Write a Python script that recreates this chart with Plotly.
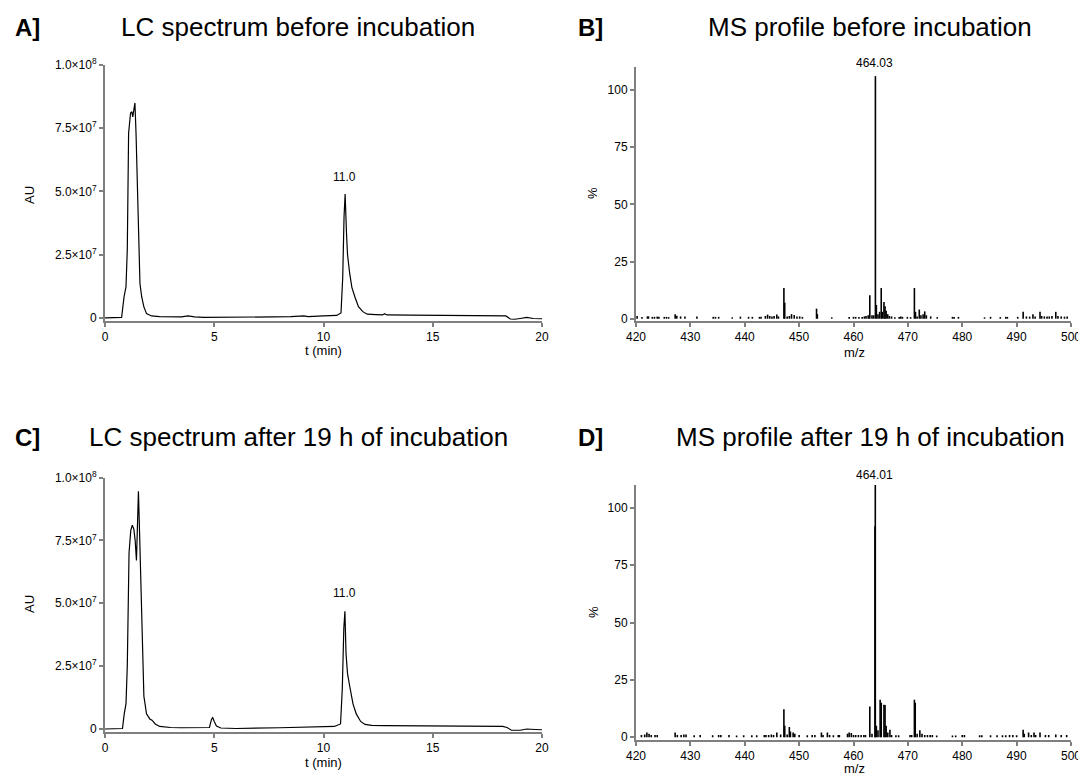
import plotly.graph_objects as go

# ---------------- DATA ----------------
# LC chromatogram before incubation (t in min, AU in units of 1e7)
lc_before_t = [0, 0.5, 0.76, 0.87, 0.96, 1.02, 1.08, 1.17, 1.23, 1.27, 1.30, 1.34, 1.37,
               1.42, 1.52, 1.60, 1.68, 1.78, 1.90, 2.13, 2.5, 3.0, 3.5, 3.8, 4.1, 4.5,
               5.5, 7.0, 8.5, 9.1, 9.3, 10.0, 10.6, 10.8, 10.88, 10.94, 10.99, 11.05,
               11.1, 11.2, 11.3, 11.45, 11.6, 11.8, 12.0, 12.4, 12.7, 12.8, 12.9, 14.0,
               16.0, 18.0, 18.35, 18.55, 18.75, 19.0, 19.3, 19.6, 20.0]
lc_before_au = [0.0, 0.0, 0.02, 0.83, 1.23, 2.7, 7.3, 8.1, 8.15, 7.95, 8.1, 8.3, 8.5,
                7.3, 4.0, 1.36, 0.83, 0.44, 0.17, 0.08, 0.05, 0.04, 0.04, 0.08, 0.04, 0.02,
                0.02, 0.03, 0.05, 0.08, 0.05, 0.08, 0.1, 0.2, 1.6, 4.0, 4.9, 3.4,
                2.5, 1.75, 1.2, 0.8, 0.45, 0.25, 0.15, 0.13, 0.12, 0.17, 0.12, 0.11,
                0.1, 0.1, 0.08, -0.04, -0.05, -0.02, 0.02, -0.02, -0.03]

# LC chromatogram after 19 h incubation
lc_after_t = [0, 0.5, 0.8, 0.88, 0.96, 1.02, 1.1, 1.18, 1.25, 1.32, 1.38, 1.44, 1.49,
              1.53, 1.57, 1.62, 1.68, 1.78, 1.9, 2.05, 2.15, 2.3, 2.5, 3.0, 3.5, 4.5,
              4.78, 4.88, 4.93, 5.0, 5.1, 5.3, 6.0, 8.0, 9.5, 10.5, 10.78, 10.86, 10.93,
              10.98, 11.03, 11.1, 11.2, 11.35, 11.5, 11.7, 11.9, 12.2, 12.8, 14.0, 16.0,
              18.2, 18.4, 18.6, 19.0, 19.3, 19.7, 20.0]
lc_after_au = [0.0, 0.0, 0.02, 0.6, 1.0, 2.5, 7.0, 7.9, 8.1, 7.95, 7.5, 6.7, 8.0,
               9.45, 8.2, 6.5, 3.6, 1.3, 0.6, 0.4, 0.35, 0.2, 0.1, 0.06, 0.05, 0.04,
               0.06, 0.4, 0.45, 0.3, 0.12, 0.04, 0.02, 0.05, 0.07, 0.1, 0.2, 1.6, 4.0,
               4.68, 3.0, 2.2, 1.7, 1.0, 0.6, 0.3, 0.18, 0.14, 0.13, 0.12, 0.1,
               0.1, 0.06, -0.05, -0.05, 0.0, -0.02, -0.03]

# MS profile before incubation (m/z, relative intensity %)
ms_before_mz = [420.2, 421.1, 422.1, 422.3, 423.0, 423.4, 423.9, 424.2, 425.2, 425.6, 426.0,
                427.2, 427.5, 428.2, 429.0, 431.2, 434.2, 434.6, 435.2, 437.7, 439.2, 440.7,
                441.4, 442.7, 443.0, 443.8, 444.2, 444.6, 445.0, 445.4, 445.9, 446.2, 447.2,
                447.35, 447.8, 448.2, 448.6, 449.1, 449.6, 450.1, 450.6, 453.2, 453.35, 456.0,
                459.2, 460.0, 460.4, 461.0, 461.6, 462.0, 462.3, 462.7, 463.0, 463.4, 463.7,
                464.03, 464.2, 464.5, 464.8, 465.1, 465.3, 465.6, 465.8, 466.0, 466.3, 466.6,
                467.0, 467.6, 468.4, 468.7, 469.0, 469.9, 470.5, 471.2, 471.4, 471.7, 472.1,
                472.4, 472.8, 473.1, 473.4, 474.2, 475.4, 478.2, 478.5, 479.3, 484.1, 485.2,
                487.0, 488.0, 488.3, 490.2, 491.2, 491.8, 492.4, 493.0, 493.4, 494.3, 494.6,
                495.1, 495.6, 496.0, 496.5, 497.2, 497.6, 498.2, 498.8, 499.3]
ms_before_int = [1.2, 0.8, 1.0, 1.0, 0.8, 0.8, 0.9, 0.9, 0.8, 0.8, 0.7,
                 2.0, 1.3, 1.0, 1.0, 1.0, 0.8, 0.8, 0.8, 0.6, 0.9, 0.8,
                 0.8, 0.8, 0.9, 1.2, 1.8, 1.2, 1.0, 1.2, 1.8, 1.0, 13.4,
                 7.0, 1.0, 1.2, 2.0, 1.6, 1.0, 1.0, 0.8, 4.4, 2.0, 0.6,
                 0.8, 0.8, 0.8, 0.8, 0.8, 1.0, 1.2, 1.5, 10.3, 1.5, 1.5,
                 106.0, 6.0, 2.0, 3.0, 13.4, 3.0, 7.3, 5.5, 3.5, 2.0, 1.2,
                 1.0, 0.6, 0.8, 1.0, 0.8, 0.8, 0.7, 13.4, 3.0, 1.0, 4.0,
                 1.5, 2.0, 3.2, 1.5, 1.0, 0.7, 0.8, 0.8, 0.8, 0.6, 0.8,
                 0.7, 0.8, 0.8, 0.8, 3.0, 1.0, 0.9, 2.0, 1.0, 3.0, 1.2,
                 1.0, 1.0, 1.0, 1.2, 3.0, 1.2, 1.0, 0.9, 1.0]

# MS profile after 19 h incubation
ms_after_mz = [421.0, 421.6, 422.0, 422.4, 422.8, 423.5, 423.9, 427.2, 427.6, 428.3, 428.8,
               429.2, 430.7, 431.8, 434.1, 435.2, 435.6, 437.1, 438.5, 439.8, 441.3, 442.2,
               443.6, 443.9, 444.4, 444.9, 445.3, 445.9, 446.6, 447.2, 447.35, 447.8, 448.2,
               448.4, 448.9, 449.2, 450.0, 451.5, 452.4, 452.9, 454.1, 454.4, 455.2, 455.6,
               456.3, 457.2, 457.4, 458.9, 459.2, 459.6, 460.0, 460.4, 460.9, 461.4, 461.9,
               462.2, 463.0, 463.4, 463.95, 464.01, 464.2, 464.5, 464.9, 465.1, 465.6, 465.8,
               466.0, 466.3, 466.7, 467.0, 467.8, 468.3, 470.4, 470.7, 471.2, 471.35, 471.7,
               472.2, 472.6, 473.1, 473.6, 474.1, 474.5, 475.3, 478.2, 478.8, 480.0, 480.4,
               483.2, 483.6, 485.2, 486.4, 487.4, 488.0, 488.7, 489.3, 490.0, 491.2, 491.4,
               492.2, 492.7, 493.2, 493.5, 494.3, 495.3, 495.9, 497.2, 498.2, 499.2]
ms_after_int = [1.0, 1.2, 2.0, 1.5, 1.0, 1.0, 1.0, 2.0, 1.0, 1.0, 1.2,
                1.2, 0.8, 1.0, 0.8, 1.0, 1.0, 1.0, 0.7, 0.8, 0.8, 0.8,
                1.0, 1.0, 1.0, 1.2, 1.0, 2.0, 1.2, 12.2, 5.0, 1.2, 4.4,
                2.5, 2.0, 1.5, 1.0, 0.8, 1.0, 1.0, 2.0, 1.0, 2.0, 1.0,
                0.8, 1.0, 1.0, 1.5, 2.0, 1.8, 1.0, 1.0, 1.0, 1.0, 1.0,
                1.0, 13.4, 1.5, 92.0, 110.0, 5.0, 3.0, 16.3, 15.0, 14.2, 14.0,
                5.0, 2.0, 3.2, 1.0, 0.8, 0.8, 1.0, 1.0, 16.3, 15.0, 1.5,
                3.0, 1.5, 1.0, 1.0, 1.0, 1.0, 0.7, 0.7, 0.7, 1.0, 1.0,
                0.8, 0.8, 0.8, 0.8, 0.8, 0.8, 1.0, 1.0, 0.8, 3.2, 1.5,
                2.0, 1.0, 2.0, 1.0, 2.0, 1.0, 1.0, 1.2, 1.0, 1.0]

lc_xticks = [0, 5, 10, 15, 20]
lc_yticks = [0, 2.5e7, 5e7, 7.5e7, 1e8]
lc_yticktext = ["0", "2.5×10<sup>7</sup>", "5.0×10<sup>7</sup>", "7.5×10<sup>7</sup>", "1.0×10<sup>8</sup>"]
ms_xticks = [420, 430, 440, 450, 460, 470, 480, 490, 500]
ms_yticks = [0, 25, 50, 75, 100]

panel_letters = ["A]", "B]", "C]", "D]"]
panel_titles = ["LC spectrum before incubation", "MS profile before incubation",
                "LC spectrum after 19 h of incubation", "MS profile after 19 h of incubation"]
peak_labels = ["11.0", "464.03", "11.0", "464.01"]

# ---------------- FIGURE ----------------
# the page body has an 8 px margin, so the figure is drawn 8 px in and shrunk by 8 px
OFF = 8
W, H = 1086 - OFF, 776 - OFF
FONT = "Arial, Liberation Sans, sans-serif"
AXC = "#7f7f7f"


def px(xp):
    return (xp - OFF) / W


def py(yp):
    return 1 - (yp - OFF) / H


def sticks(mz, inten):
    xs, ys = [], []
    for m, v in zip(mz, inten):
        xs += [m, m, None]
        ys += [0, v, None]
    return xs, ys


fig = go.Figure()

fig.add_trace(go.Scatter(x=lc_before_t, y=[v * 1e7 for v in lc_before_au], mode="lines",
                         line=dict(color="black", width=1.2), xaxis="x", yaxis="y",
                         showlegend=False, hoverinfo="skip"))
bx, by = sticks(ms_before_mz, ms_before_int)
fig.add_trace(go.Scatter(x=bx, y=by, mode="lines", line=dict(color="black", width=1.6),
                         xaxis="x2", yaxis="y2", showlegend=False, hoverinfo="skip"))
fig.add_trace(go.Scatter(x=lc_after_t, y=[v * 1e7 for v in lc_after_au], mode="lines",
                         line=dict(color="black", width=1.2), xaxis="x3", yaxis="y3",
                         showlegend=False, hoverinfo="skip"))
dx, dy = sticks(ms_after_mz, ms_after_int)
fig.add_trace(go.Scatter(x=dx, y=dy, mode="lines", line=dict(color="black", width=1.6),
                         xaxis="x4", yaxis="y4", showlegend=False, hoverinfo="skip"))

common_ax = dict(showline=True, linecolor=AXC, linewidth=2, ticks="outside", ticklen=4,
                 tickwidth=1.5, tickcolor=AXC, showgrid=False, zeroline=False,
                 automargin=False, ticklabeloverflow="allow",
                 tickfont=dict(family=FONT, size=12, color="black"), fixedrange=True)

lc_x_dom = [px(105), px(542)]
ms_x_dom = [px(636), px(1071)]
doms_y = {
    "A": [py(320.5), py(65)],
    "B": [py(321), py(67)],
    "C": [py(731.5), py(477.5)],
    "D": [py(739.5), py(485)],
}

fig.update_layout(
    template="none",
    width=W, height=H, margin=dict(l=0, r=0, t=0, b=0, autoexpand=False),
    paper_bgcolor="white", plot_bgcolor="white",
    font=dict(family=FONT, color="black"),
    xaxis=dict(domain=lc_x_dom, anchor="y", range=[0, 20], tickvals=lc_xticks, **common_ax),
    yaxis=dict(domain=doms_y["A"], anchor="x", range=[-1e6, 1e8], tickvals=lc_yticks,
               ticktext=lc_yticktext, **common_ax),
    xaxis2=dict(domain=ms_x_dom, anchor="y2", range=[420, 500], tickvals=ms_xticks, **common_ax),
    yaxis2=dict(domain=doms_y["B"], anchor="x2", range=[-1, 110], tickvals=ms_yticks, **common_ax),
    xaxis3=dict(domain=lc_x_dom, anchor="y3", range=[0, 20], tickvals=lc_xticks, **common_ax),
    yaxis3=dict(domain=doms_y["C"], anchor="x3", range=[-1e6, 1e8], tickvals=lc_yticks,
                ticktext=lc_yticktext, **common_ax),
    xaxis4=dict(domain=ms_x_dom, anchor="y4", range=[420, 500], tickvals=ms_xticks, **common_ax),
    yaxis4=dict(domain=doms_y["D"], anchor="x4", range=[-1, 110], tickvals=ms_yticks, **common_ax),
)

ann = []
# panel letters and titles
letter_pos = [(13, 27), (576, 27), (13, 437), (576, 437)]
title_pos = [(298, 27), (870, 27), (298, 437), (870, 437)]
for i in range(4):
    lx, ly = letter_pos[i]
    ann.append(dict(x=px(lx), y=py(ly), xref="paper", yref="paper", xanchor="left",
                    yanchor="middle", showarrow=False,
                    text="<b>" + panel_letters[i] + "</b>",
                    font=dict(family=FONT, size=24, color="black")))
    tx, ty = title_pos[i]
    ann.append(dict(x=px(tx), y=py(ty), xref="paper", yref="paper", xanchor="center",
                    yanchor="middle", showarrow=False, text=panel_titles[i],
                    font=dict(family=FONT, size=26, color="black")))

# axis titles
axis_titles = [
    ("AU", 29, 195, -90), ("t (min)", 323, 351, 0),
    ("%", 593, 193, -90), ("m/z", 854, 352, 0),
    ("AU", 29, 604, -90), ("t (min)", 323, 762, 0),
    ("%", 593, 612, -90), ("m/z", 854, 768, 0),
]
for txt, x0, y0, rot in axis_titles:
    ann.append(dict(x=px(x0), y=py(y0), xref="paper", yref="paper", xanchor="center",
                    yanchor="middle", showarrow=False, text=txt, textangle=rot,
                    font=dict(family=FONT, size=13, color="black")))

# peak labels
peak_pos = [(344, 177), (874, 63), (344, 593), (874, 475)]
for i in range(4):
    x0, y0 = peak_pos[i]
    ann.append(dict(x=px(x0), y=py(y0), xref="paper", yref="paper", xanchor="center",
                    yanchor="middle", showarrow=False, text=peak_labels[i],
                    font=dict(family=FONT, size=12, color="black")))

fig.update_layout(annotations=ann)

fig.write_html("out.html")
